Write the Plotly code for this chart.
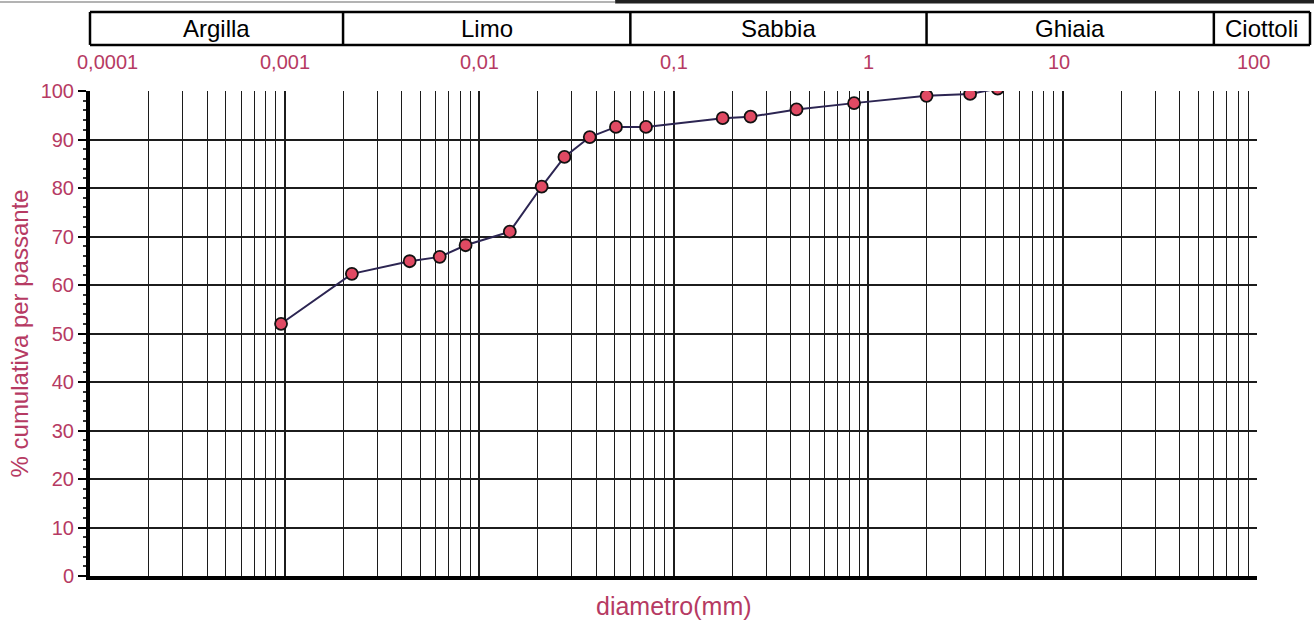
import math
import plotly.graph_objects as go

# ---- data ----
diametro_mm = [0.00096, 0.00222, 0.0044, 0.00628, 0.00853, 0.0144, 0.021, 0.0275,
               0.0371, 0.0506, 0.0722, 0.179, 0.249, 0.429, 0.848, 2.0, 3.35, 4.64]
passante_pct = [52.0, 62.3, 64.9, 65.8, 68.2, 71.0, 80.3, 86.4,
                90.5, 92.6, 92.6, 94.4, 94.7, 96.2, 97.5, 99.0, 99.4, 100.5]

x_tick_vals = [0.0001, 0.001, 0.01, 0.1, 1, 10, 100]
x_tick_text = ["0,0001", "0,001", "0,01", "0,1", "1", "10", "100"]

classi = ["Argilla", "Limo", "Sabbia", "Ghiaia", "Ciottoli"]
limiti_classi = [0.0001, 0.002, 0.06, 2, 60]   # lower bound of each class

y_tick_vals = [0, 10, 20, 30, 40, 50, 60, 70, 80, 90, 100]

# ---- style ----
PINK = "#b63a63"
FONT = "Liberation Sans, Arial, sans-serif"
GRID = "#1c1c1c"

BAND_TOP = 1.163
BAND_BOT = 1.095
BAND_RIGHT = 1.0454

fig = go.Figure()
fig.add_trace(go.Scatter(
    x=diametro_mm, y=passante_pct, mode="lines+markers",
    line=dict(color="#2c2552", width=2),
    marker=dict(size=12, color="#e04a63", line=dict(color="#111111", width=1.8)),
    cliponaxis=True, showlegend=False, hoverinfo="x+y"))

shapes = []
# band outline
for yy in (BAND_TOP, BAND_BOT):
    shapes.append(dict(type="line", xref="paper", yref="paper", x0=0, x1=BAND_RIGHT,
                       y0=yy, y1=yy, line=dict(color="black", width=2.5)))
for xx in (0, BAND_RIGHT):
    shapes.append(dict(type="line", xref="paper", yref="paper", x0=xx, x1=xx,
                       y0=BAND_BOT, y1=BAND_TOP, line=dict(color="black", width=2.5)))
for lim in limiti_classi[1:]:
    shapes.append(dict(type="line", xref="x", yref="paper", x0=lim, x1=lim,
                       y0=BAND_BOT, y1=BAND_TOP, line=dict(color="black", width=2.5)))
# scan edge at the very top
shapes.append(dict(type="line", xref="paper", yref="paper", x0=-0.078, x1=0.45,
                   y0=1.1835, y1=1.1835, line=dict(color="#9a9a9a", width=1.5)))
shapes.append(dict(type="line", xref="paper", yref="paper", x0=0.45, x1=1.05,
                   y0=1.1845, y1=1.1845, line=dict(color="#222222", width=4)))

annotations = []
# class names
for i, name in enumerate(classi):
    lo = math.log10(limiti_classi[i])
    if i + 1 < len(limiti_classi):
        hi = math.log10(limiti_classi[i + 1])
        ax_x, ax_ref = (lo + hi) / 2, "x"
    else:
        frac_lo = (lo + 4) / 6
        ax_x, ax_ref = (frac_lo + BAND_RIGHT) / 2, "paper"
    annotations.append(dict(x=ax_x, xref=ax_ref, y=1.129, yref="paper",
                            xanchor="center", yanchor="middle",
                            text=name, showarrow=False,
                            font=dict(family=FONT, size=24, color="black")))
# x tick labels on top
for i, (v, t) in enumerate(zip(x_tick_vals, x_tick_text)):
    annotations.append(dict(x=math.log10(v), xref="x", y=1.06, yref="paper",
                            xanchor="center", yanchor="middle",
                            text=t, showarrow=False,
                            xshift=17 if i == 0 else (-4 if i >= 5 else 0),
                            font=dict(family=FONT, size=20, color=PINK)))
# titles
annotations.append(dict(x=0.5, xref="paper", y=-0.062, yref="paper", text="diametro(mm)",
                        xanchor="center", yanchor="middle",
                        showarrow=False, font=dict(family=FONT, size=25, color=PINK)))
annotations.append(dict(x=-0.06, xref="paper", y=0.5, yref="paper",
                        xanchor="center", yanchor="middle",
                        text="% cumulativa per passante", textangle=-90,
                        showarrow=False, font=dict(family=FONT, size=24, color=PINK)))

fig.update_layout(
    width=1314, height=622,
    margin=dict(l=90, r=57, t=91, b=46),
    paper_bgcolor="white", plot_bgcolor="white",
    font=dict(family=FONT, color=PINK),
    xaxis=dict(type="log", range=[-4, 2], dtick=1, showticklabels=False, ticks="",
               showgrid=True, gridcolor=GRID, gridwidth=2,
               minor=dict(dtick="D1", showgrid=True, gridcolor=GRID, gridwidth=1.3, ticks=""),
               showline=True, linecolor="black", linewidth=4, zeroline=False),
    yaxis=dict(range=[0, 100], tickvals=y_tick_vals, ticks="outside", ticklen=8,
               tickwidth=1.5, tickcolor="black",
               tickfont=dict(family=FONT, size=20, color=PINK),
               showgrid=True, gridcolor=GRID, gridwidth=1.5,
               minor=dict(dtick=2, ticks="outside", ticklen=3, tickwidth=2,
                          tickcolor="#333333", showgrid=False),
               showline=True, linecolor="black", linewidth=4, zeroline=False),
    shapes=shapes, annotations=annotations,
)

fig.write_html("out.html")
